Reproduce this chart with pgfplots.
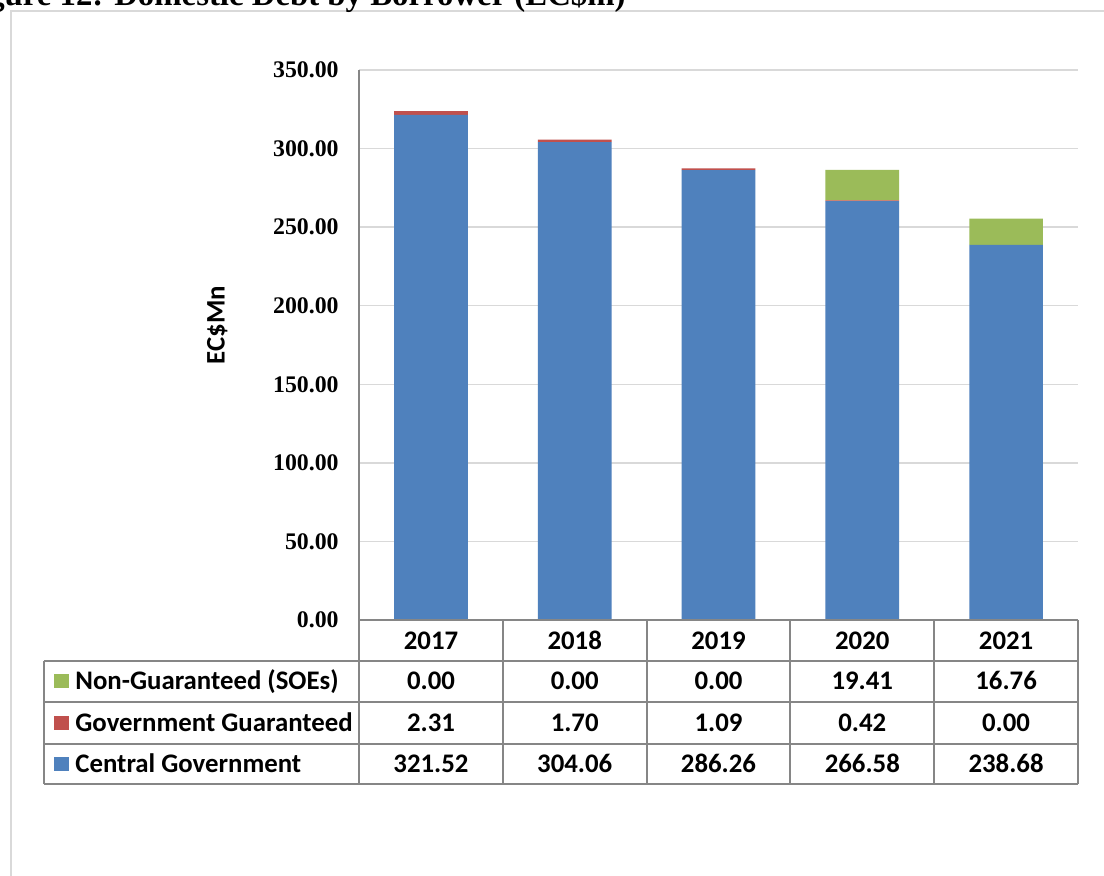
\documentclass[border=0pt]{standalone}
\usepackage{pgfplots}
\pgfplotsset{compat=1.18}
\usepackage{fontspec}
\setmainfont{Liberation Serif}
\newfontfamily\calfont{Carlito}
\definecolor{cblue}{RGB}{79,129,189}
\definecolor{cred}{RGB}{192,80,77}
\definecolor{cgreen}{RGB}{155,187,89}
\definecolor{gridgray}{RGB}{217,217,217}
\definecolor{tabgray}{RGB}{134,134,134}
\definecolor{framegray}{RGB}{217,217,217}
\begin{document}
\begin{tikzpicture}
\useasboundingbox (0,0) rectangle (552pt,437.5pt);
\clip (0,0) rectangle (552pt,437.5pt);
\fill[white] (0,0) rectangle (552pt,437.5pt);
\draw[framegray, line width=0.8pt] (5.5pt,-5pt) -- (5.5pt,432pt) -- (560pt,432pt);
\node[anchor=base east, inner sep=0pt, font=\fontsize{16.4}{18}\selectfont\bfseries] at (313pt,434.75pt) {Figure 12: Domestic Debt by Borrower (EC\$m)};
\begin{axis}[at={(179.5pt,127.5pt)}, anchor=south west, scale only axis,
  width=359.5pt, height=275pt,
  xmin=-0.5, xmax=4.5, ymin=0, ymax=350,
  ytick={0,50,100,150,200,250,300,350},
  yticklabels={0.00,50.00,100.00,150.00,200.00,250.00,300.00,350.00},
  xtick=\empty,
  ymajorgrids, grid style={gridgray, line width=0.75pt},
  axis line style={draw=none}, major tick length=0pt,
  yticklabel style={font=\fontsize{11.9}{12}\selectfont\bfseries, inner sep=0pt, anchor=east, xshift=-10pt},
  ybar stacked, bar width=36.85pt, clip=false]
\addplot[fill=cblue, draw=none] coordinates {(0,321.52) (1,304.06) (2,286.26) (3,266.58) (4,238.68)};
\addplot[fill=cred, draw=none] coordinates {(0,2.31) (1,1.70) (2,1.09) (3,0.42) (4,0.00)};
\addplot[fill=cgreen, draw=none] coordinates {(0,0) (1,0) (2,0) (3,19.41) (4,16.76)};
\end{axis}
% table lines
\begin{scope}[tabgray, line width=1pt]
\draw (179.5pt,402.5pt) -- (179.5pt,45.5pt);
\draw (179.5pt,127.5pt) -- (539pt,127.5pt);
\foreach \yy in {107.15,86.65,65.5,45.5} {\draw (22pt,\yy pt) -- (539pt,\yy pt);}
\draw (22pt,107.15pt) -- (22pt,45.5pt);
\foreach \xx in {251.4,323.3,395.2,467.1,539} {\draw (\xx pt,127.5pt) -- (\xx pt,45.5pt);}
\end{scope}
\begin{scope}[every node/.style={font=\calfont\bfseries\fontsize{13.4}{15}\selectfont, inner sep=0pt, text height=8.6pt, text depth=0pt}]
\node[rotate=90] at (108pt,275pt) {EC\$Mn};
% header
\node at (215.5pt,117.15pt) {2017};
\node at (287.35pt,117.15pt) {2018};
\node at (359.25pt,117.15pt) {2019};
\node at (431.15pt,117.15pt) {2020};
\node at (503.05pt,117.15pt) {2021};
% row labels
\fill[cgreen] (27pt,93.4pt) rectangle (34.5pt,100.4pt);
\fill[cred] (27pt,72.6pt) rectangle (34.5pt,79.6pt);
\fill[cblue] (27pt,52pt) rectangle (34.5pt,59pt);
\node[anchor=west] at (37.5pt,96.9pt) {Non-Guaranteed (SOEs)};
\node[anchor=west] at (37.5pt,76.1pt) {Government Guaranteed};
\node[anchor=west] at (37.5pt,55.5pt) {Central Government};
% row 1
\node at (215.5pt,96.9pt) {0.00};
\node at (287.35pt,96.9pt) {0.00};
\node at (359.25pt,96.9pt) {0.00};
\node at (431.15pt,96.9pt) {19.41};
\node at (503.05pt,96.9pt) {16.76};
% row 2
\node at (215.5pt,76.1pt) {2.31};
\node at (287.35pt,76.1pt) {1.70};
\node at (359.25pt,76.1pt) {1.09};
\node at (431.15pt,76.1pt) {0.42};
\node at (503.05pt,76.1pt) {0.00};
% row 3
\node at (215.5pt,55.5pt) {321.52};
\node at (287.35pt,55.5pt) {304.06};
\node at (359.25pt,55.5pt) {286.26};
\node at (431.15pt,55.5pt) {266.58};
\node at (503.05pt,55.5pt) {238.68};
\end{scope}
\end{tikzpicture}
\end{document}
